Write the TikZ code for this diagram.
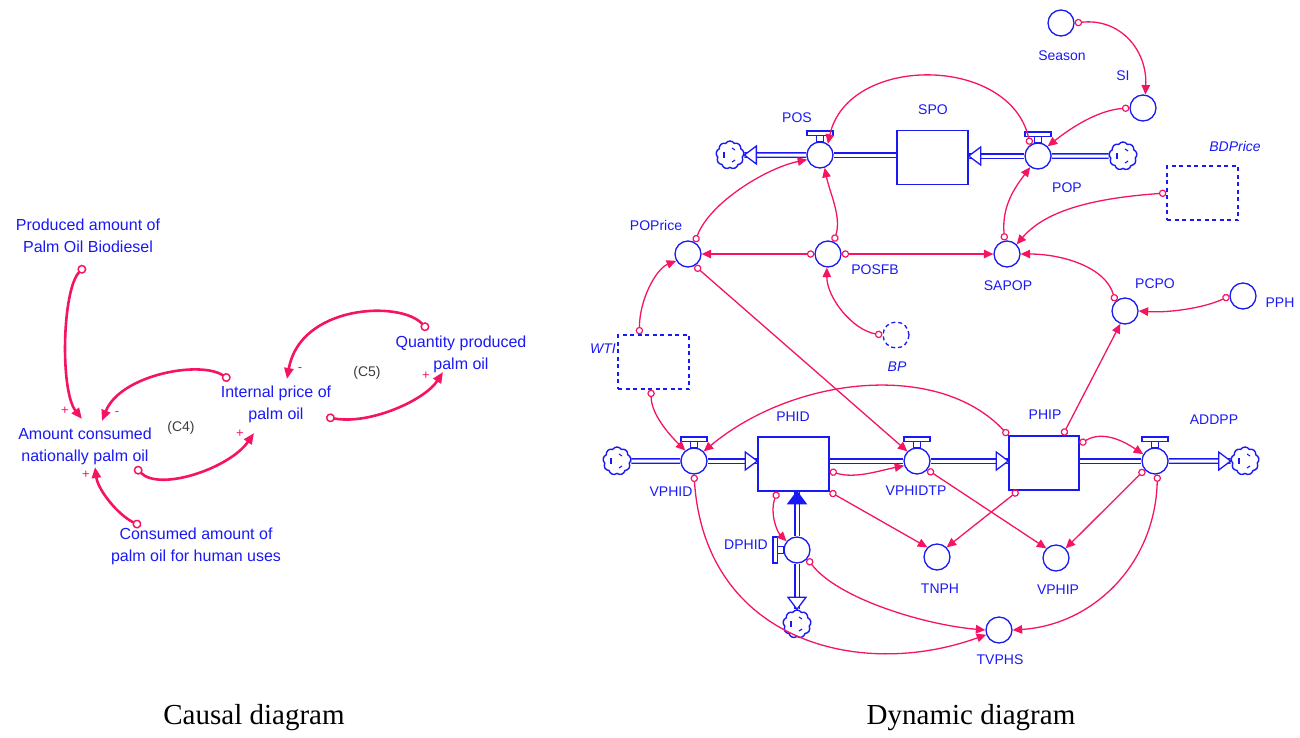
\documentclass[tikz,border=0pt]{standalone}
\usepackage{fontspec}
\setmainfont{Liberation Serif}
\setsansfont{Liberation Sans}
\usetikzlibrary{arrows.meta,shapes.symbols,calc}
\pgfdeclarelayer{pipes}
\pgfsetlayers{pipes,main}

\definecolor{vblue}{RGB}{25,25,245}
\definecolor{lpink}{RGB}{245,20,100}
\definecolor{cgray}{RGB}{60,60,60}

\tikzset{
  lbl/.style={text=vblue, font=\sffamily\fontsize{14}{16}\selectfont, inner sep=0},
  ilbl/.style={text=vblue, font=\sffamily\itshape\fontsize{14}{16}\selectfont, inner sep=0},
  clbl/.style={text=vblue, font=\sffamily\fontsize{16}{22}\selectfont, inner sep=0, align=center},
  sign/.style={text=lpink, font=\sffamily\fontsize{13}{14}\selectfont, inner sep=0},
  loopname/.style={text=cgray, font=\sffamily\fontsize{14}{16}\selectfont, inner sep=0},
  caption/.style={text=black, font=\rmfamily\fontsize{29}{32}\selectfont, inner sep=0},
  var/.style={circle, draw=vblue, line width=1.3pt, fill=white, minimum size=26pt, inner sep=0},
  stock/.style={rectangle, draw=vblue, line width=1.4pt, fill=white, minimum width=71pt, minimum height=54pt, inner sep=0},
  auxbox/.style={rectangle, draw=vblue, line width=1.3pt, dash pattern=on 4pt off 3.5pt, minimum width=71pt, minimum height=54pt, inner sep=0},
  cloudN/.style={cloud, cloud puffs=9, cloud puff arc=115, aspect=1, draw=vblue, line width=1.4pt, fill=white, minimum width=28pt, minimum height=28pt, inner sep=0},
  flowline/.style={draw=vblue, line width=1.3pt},
  pipe/.style={draw=vblue, line width=1.4pt, double=white, double distance=3pt},
  link/.style={draw=lpink, line width=1.3pt, {Circle[open,length=7.5pt,width=7.5pt,line width=1.2pt]}-{Triangle[length=9.5pt,width=8.5pt]}},
  clink/.style={draw=lpink, line width=2.6pt, {Circle[open,length=9pt,width=9pt,line width=1.5pt]}-{Triangle[length=11pt,width=9pt]}},
  valveTop/.pic={
    \draw[flowline, fill=white] (-13,-24) rectangle (13,-19.5);
    \draw[flowline, fill=white] (-3.5,-19.5) rectangle (3.5,-13);
  },
  valveLeft/.pic={
    \draw[flowline, fill=white] (-24,-13) rectangle (-19.5,13);
    \draw[flowline, fill=white] (-19.5,-3.5) rectangle (-13,3.5);
  },
  tipR/.pic={\filldraw[flowline, fill=white] (0,0) -- (-12,-9) -- (-12,9) -- cycle;},
  tipL/.pic={\filldraw[flowline, fill=white] (0,0) -- (12,-9) -- (12,9) -- cycle;},
  tipD/.pic={\filldraw[flowline, fill=white] (0,0) -- (-9,-12) -- (9,-12) -- cycle;},
  tipUfill/.pic={\filldraw[flowline, fill=vblue] (0,0) -- (-9,12) -- (9,12) -- cycle;},
  cloudmarks/.pic={
    \draw[flowline, line width=1.1pt] (-6,-3) -- (-6,3);
    \draw[flowline, line width=1.1pt] (2,-7) -- (5,-5);
    \draw[flowline, line width=1.1pt] (2,7) -- (5,5);
  }
}

\begin{document}
\begin{tikzpicture}[x=1pt,y=-1pt]
\useasboundingbox (0,0) rectangle (1300,737);

% ---------------- causal diagram ----------------
\node[clbl] (prod) at (88,236) {Produced amount of\\Palm Oil Biodiesel};
\node[clbl] (amount) at (85,446) {Amount consumed\\nationally palm oil};
\node[clbl] (internal) at (276,404) {Internal price of\\palm oil};
\node[clbl] (quantity) at (461,354) {Quantity produced\\palm oil};
\node[clbl] (consumed) at (196,546) {Consumed amount of\\palm oil for human uses};

\coordinate (prodOut) at (85,266);
\coordinate (amountInTop) at (82,419);
\coordinate (amountInMid) at (102,421);
\coordinate (amountInLow) at (95,467);
\coordinate (amountOut) at (135,467);
\coordinate (internalOutTop) at (230,380);
\coordinate (internalOutLow) at (326,417);
\coordinate (internalInLow) at (254,433);
\coordinate (internalInTop) at (287,379);
\coordinate (quantityOut) at (428,330);
\coordinate (quantityIn) at (443,372);
\coordinate (consumedOut) at (141,526);

\draw[clink] (prodOut) .. controls +(-23,24) and +(-22,-28) .. (amountInTop);
\draw[clink] (internalOutTop) .. controls +(-30,-20) and +(18,-46) .. (amountInMid);
\draw[clink] (amountOut) .. controls +(25,25) and +(-24,35) .. (internalInLow);
\draw[clink] (quantityOut) .. controls +(-28,-30) and +(13,-74) .. (internalInTop);
\draw[clink] (internalOutLow) .. controls +(44,8) and +(-18,28) .. (quantityIn);
\draw[clink] (consumedOut) .. controls +(-23,-11) and +(3,23) .. (amountInLow);

\node[sign] (s1) at (65,411) {+};
\node[sign] (s2) at (117,414) {-};
\node[sign] (s3) at (240,434) {+};
\node[sign] (s4) at (300,370) {-};
\node[sign] (s5) at (426,376) {+};
\node[sign] (s6) at (86,475) {+};
\node[loopname] (C4) at (181,428) {(C4)};
\node[loopname] (C5) at (367,373) {(C5)};

% ---------------- stock and flow diagram ----------------
% stocks, valves, auxiliaries and sources/sinks
\node[cloudN] (cTL) at (730,155) {};
\node[var] (POS) at (820,155) {};
\node[stock] (SPO) at (932.5,157.5) {};
\node[var] (POP) at (1038,156) {};
\node[cloudN] (cTR) at (1123,156) {};
\node[var] (Season) at (1061,23) {};
\node[var] (SI) at (1143,108) {};
\node[auxbox] (BDPrice) at (1202.5,193) {};
\node[var] (POPrice) at (688,254) {};
\node[var] (POSFB) at (828,254) {};
\node[var] (SAPOP) at (1007,254) {};
\node[var] (PCPO) at (1125,311) {};
\node[var] (PPH) at (1243,296) {};
\node[var, dash pattern=on 4pt off 3pt] (BP) at (896,335) {};
\node[auxbox] (WTI) at (653.5,362) {};
\node[cloudN] (cBL) at (617,461) {};
\node[var] (VPHID) at (694,461) {};
\node[stock] (PHID) at (793.5,464) {};
\node[var] (VPHIDTP) at (917,461) {};
\node[stock, minimum width=70pt] (PHIP) at (1044,463) {};
\node[var] (ADDPP) at (1155,461) {};
\node[cloudN] (cBR) at (1245,461) {};
\node[var] (DPHID) at (797,550) {};
\node[cloudN] (cB) at (797,624) {};
\node[var] (TNPH) at (937,557) {};
\node[var] (VPHIP) at (1056,558) {};
\node[var] (TVPHS) at (999,630) {};

% pipes
\begin{pgfonlayer}{pipes}
\draw[pipe] (cTL) -- (POS);
\draw[pipe] (POS.east) -- (POS.east -| SPO.west);
\draw[pipe] (POP.west) -- (POP.west -| SPO.east);
\draw[pipe] (POP) -- (cTR);
\draw[pipe] (cBL) -- (VPHID);
\draw[pipe] (VPHID.east) -- (VPHID.east -| PHID.west);
\draw[pipe] (VPHIDTP.west -| PHID.east) -- (VPHIDTP.west);
\draw[pipe] (VPHIDTP.east) -- (VPHIDTP.east -| PHIP.west);
\draw[pipe] (ADDPP.west -| PHIP.east) -- (ADDPP.west);
\draw[pipe] (ADDPP) -- (cBR);
\draw[pipe] (PHID.south -| DPHID.north) -- (DPHID.north);
\draw[pipe] (DPHID.south) -- (cB.north);
\end{pgfonlayer}

% flow heads and valve handles
\pic at (cTL.east) {tipL};
\pic at (POP.west -| SPO.east) {tipL};
\pic at (VPHID.east -| PHID.west) {tipR};
\pic at (VPHIDTP.east -| PHIP.west) {tipR};
\pic at (cBR.west) {tipR};
\pic at (PHID.south -| DPHID.north) {tipUfill};
\pic at (cB.north) {tipD};
\pic at (POS) {valveTop};
\pic at (POP) {valveTop};
\pic at (VPHID) {valveTop};
\pic at (VPHIDTP) {valveTop};
\pic at (ADDPP) {valveTop};
\pic at (DPHID) {valveLeft};
\pic at (cTL) {cloudmarks};
\pic at (cTR) {cloudmarks};
\pic at (cBL) {cloudmarks};
\pic at (cBR) {cloudmarks};
\pic at (cB) {cloudmarks};

% labels
\node[lbl] (lPOS) at (797,118) {POS};
\node[lbl] (lSPO) at (933,110) {SPO};
\node[lbl] (lPOP) at (1067,188) {POP};
\node[lbl] (lSeason) at (1062,56) {Season};
\node[lbl] (lSI) at (1123,76) {SI};
\node[ilbl] (lBDPrice) at (1235,146) {BDPrice};
\node[lbl] (lPOPrice) at (656,225) {POPrice};
\node[lbl] (lPOSFB) at (875,270) {POSFB};
\node[lbl] (lSAPOP) at (1008,286) {SAPOP};
\node[lbl] (lPCPO) at (1155,284) {PCPO};
\node[lbl] (lPPH) at (1280,303) {PPH};
\node[ilbl] (lBP) at (897,367) {BP};
\node[ilbl] (lWTI) at (603,349) {WTI};
\node[lbl] (lPHID) at (793,417) {PHID};
\node[lbl] (lVPHID) at (671,492) {VPHID};
\node[lbl] (lVPHIDTP) at (916,491) {VPHIDTP};
\node[lbl] (lPHIP) at (1045,415) {PHIP};
\node[lbl] (lADDPP) at (1214,420) {ADDPP};
\node[lbl] (lDPHID) at (746,545) {DPHID};
\node[lbl] (lTNPH) at (940,589) {TNPH};
\node[lbl] (lVPHIP) at (1058,590) {VPHIP};
\node[lbl] (lTVPHS) at (1000,660) {TVPHS};

% information links
\draw[link] (Season.east) .. controls +(45,-5) and +(2,-45) .. (SI.80);
\draw[link] (SI.west) .. controls +(-30,2) and +(25,-20) .. (POP.45);
\draw[link] (POP.125) .. controls +(-20,-90) and +(20,-90) .. (POS.55);
\draw[link] (BDPrice.west) .. controls +(-70,5) and +(30,-35) .. (SAPOP.45);
\draw[link] (SAPOP.100) .. controls +(-3,-35) and +(-15,20) .. (POP.235);
\draw[link] (PCPO.135) .. controls +(-10,-35) and +(40,0) .. (SAPOP.east);
\draw[link] (PPH.west) .. controls +(-25,12) and +(30,2) .. (PCPO.east);
\draw[link] (PHIP.56) -- (PCPO.250);
\draw[link] (POSFB.west) -- (POPrice.east);
\draw[link] (POSFB.east) -- (SAPOP.west);
\draw[link] (POSFB.65) .. controls +(8,-25) and +(5,25) .. (POS.290);
\draw[link] (POPrice.60) .. controls +(15,-40) and +(-40,8) .. (POS.200);
\draw[link] (POPrice.300) -- (VPHIDTP.135);
\draw[link] (BP.west) .. controls +(-30,-5) and +(0,30) .. (POSFB.265);
\draw[link] (WTI.117) .. controls +(0,-35) and +(-20,8) .. (POPrice.210);
\draw[link] (WTI.265) .. controls +(0,25) and +(-15,-15) .. (VPHID.130);
\draw[link] (PHIP.north west) .. controls +(-70,-75) and +(90,-75) .. (VPHID.45);
\draw[link] (PHID.-11) .. controls +(25,8) and +(-25,5) .. (VPHIDTP.200);
\draw[link] (PHID.south east) -- (TNPH.135);
\draw[link] (PHID.-120) .. controls +(-8,20) and +(-10,-10) .. (DPHID.140);
\draw[link] (PHIP.-133) -- (TNPH.45);
\draw[link] (VPHIDTP.-40) -- (VPHIP.135);
\draw[link] (ADDPP.-140) -- (VPHIP.45);
\draw[link] (ADDPP.-80) .. controls +(-2,90) and +(80,-5) .. (TVPHS.east);
\draw[link] (PHIP.28) .. controls +(25,-15) and +(-15,-10) .. (ADDPP.150);
\draw[link] (VPHID.south) .. controls +(11,166) and +(-127,46) .. (TVPHS.200);
\draw[link] (DPHID.-40) .. controls +(30,40) and +(-60,-5) .. (TVPHS.west);

% captions
\node[caption] (capL) at (254,718) {Causal diagram};
\node[caption] (capR) at (971,718) {Dynamic diagram};
\end{tikzpicture}
\end{document}
